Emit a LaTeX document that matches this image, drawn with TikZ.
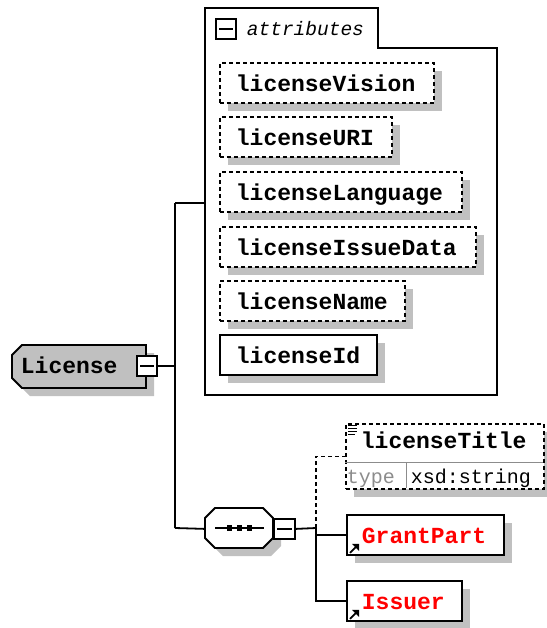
\documentclass[tikz,border=0pt]{standalone}
\usepackage{fontspec}
\newfontfamily\mono{Liberation Mono}
\usetikzlibrary{calc,shadows}
\definecolor{shd}{HTML}{C0C0C0}
\definecolor{ngray}{HTML}{C0C0C0}
\definecolor{tgray}{HTML}{8C8C8C}
\newcommand\bx[3]{\makebox[#1pt][l]{\hspace{#2pt}#3}}
\begin{document}
\begin{tikzpicture}[x=1pt,y=-1pt,line width=1.8pt,
  shad/.style={drop shadow={shadow xshift=8pt,shadow yshift=-8pt,fill=shd,opacity=1}},
  bfont/.style={font={\mono\bfseries\fontsize{23pt}{23pt}\selectfont}},
  elem/.style={draw,fill=white,shad,inner sep=0pt,anchor=north west,text height=28.5pt,text depth=11.5pt,bfont},
  optel/.style={elem,dashed,dash pattern=on 4pt off 3pt,line width=1.8pt},
  dsh/.style={dash pattern=on 4pt off 3pt,line width=1.8pt},
  ghost/.style={inner sep=0pt,anchor=north west},
  minusbox/.style={draw,fill=white,inner sep=0pt,anchor=north west}
]
\useasboundingbox (0,0) rectangle (546,628);

% attributes container
\node[ghost,minimum width=292pt,minimum height=387pt] (attr) at (205,8) {};
\draw (205,8) -- (378,8) -- (378,48) -- (497,48) -- (497,395) -- (205,395) -- cycle;
\node[minusbox,minimum width=20pt,minimum height=20pt] (amin) at (215,18) {};
\draw[line width=1.6pt] ($(amin.west)+(4,0)$) -- ($(amin.east)+(-4,0)$);
\node[anchor=base west,inner sep=0pt,font={\mono\itshape\fontsize{19.5pt}{19.5pt}\selectfont}] (atxt) at (246,36) {attributes};

% attribute boxes
\node[optel] (lv) at (219,62)  {\bx{214}{16}{licenseVision}};
\node[optel] (lu) at (219,116) {\bx{172}{16}{licenseURI}};
\node[optel] (ll) at (219,171) {\bx{242}{16}{licenseLanguage}};
\node[optel] (li) at (219,226) {\bx{256}{16}{licenseIssueData}};
\node[optel] (ln) at (219,280) {\bx{185}{16}{licenseName}};
\node[elem]  (lid) at (219,334) {\bx{157}{16}{licenseId}};

% License element
\node[ghost,minimum width=134pt,minimum height=43pt] (lic) at (12,345) {};
\draw[fill=ngray,shad] (22,345) -- (146,345) -- (146,388) -- (22,388) -- (12,378) -- (12,355) -- cycle;
\node[anchor=base west,inner sep=0pt,bfont] (lictxt) at (20,373) {License};
\node[minusbox,minimum width=20pt,minimum height=20pt] (licx) at (136,355) {};
\draw[line width=1.6pt] ($(licx.west)+(4,0)$) -- ($(licx.east)+(-4,0)$);

% sequence compositor
\node[ghost,minimum width=68pt,minimum height=40pt] (seq) at (205,508) {};
\draw[fill=white,shad] (215,508) -- (263,508) -- (273,518) -- (273,538) -- (263,548) -- (215,548) -- (205,538) -- (205,518) -- cycle;
\draw[line width=1.6pt] (215,528) -- (264,528);
\foreach \q in {229.5,239.5,249.5} \fill (\q-2.8,525.2) rectangle (\q+2.8,530.8);
\node[minusbox,minimum width=21pt,minimum height=20pt] (seqx) at (273,518) {};
\draw[line width=1.6pt] ($(seqx.west)+(4,0)$) -- ($(seqx.east)+(-4,0)$);

% licenseTitle
\node[ghost,draw,fill=white,shad,dsh,minimum width=198pt,minimum height=65pt] (lt) at (345,423) {};
\draw[tgray,line width=1pt] (345,462) -- (543,462);
\draw[tgray,line width=1pt] (406,462) -- (406,488);
\foreach \yy/\xe in {425/357,428/357,431/357,434/355} \draw[line width=1pt] (348,\yy) -- (\xe,\yy);
\node[anchor=base west,inner sep=0pt,bfont] (lttxt) at (360,448) {licenseTitle};
\node[anchor=base west,inner sep=0pt,text=tgray,font={\mono\fontsize{20pt}{20pt}\selectfont}] (ttype) at (346,483) {type};
\node[anchor=base west,inner sep=0pt,font={\mono\fontsize{20pt}{20pt}\selectfont}] (tval) at (410,483) {xsd:string};

% GrantPart and Issuer
\node[elem,text=red] (gp) at (346,514) {\bx{157}{15}{GrantPart}};
\node[elem,text=red] (is) at (346,580) {\bx{115}{15}{Issuer}};
\foreach \n in {gp,is}{
  \draw[line width=1.8pt] ($(\n.south west)+(4,-3)$) -- ($(\n.south west)+(10,-9)$);
  \fill ($(\n.south west)+(13,-12)$) -- ($(\n.south west)+(6,-12)$) -- ($(\n.south west)+(13,-5)$) -- cycle;
}

% connectors
\coordinate (jt) at (175,203);
\coordinate (jb) at (175,528);
\coordinate (j2) at (316,528);
\draw (licx.east) -- (licx.east -| jt);
\draw (jt) -- (jb);
\draw (jt) -- (jt -| attr.west);
\draw (jb) -- (seq.west);
\draw (seqx.east) -- (j2);
\draw (j2) |- (is.west);
\draw (gp.west) -| (j2);
\draw[dsh] (j2) |- (lt.west);
\end{tikzpicture}
\end{document}
